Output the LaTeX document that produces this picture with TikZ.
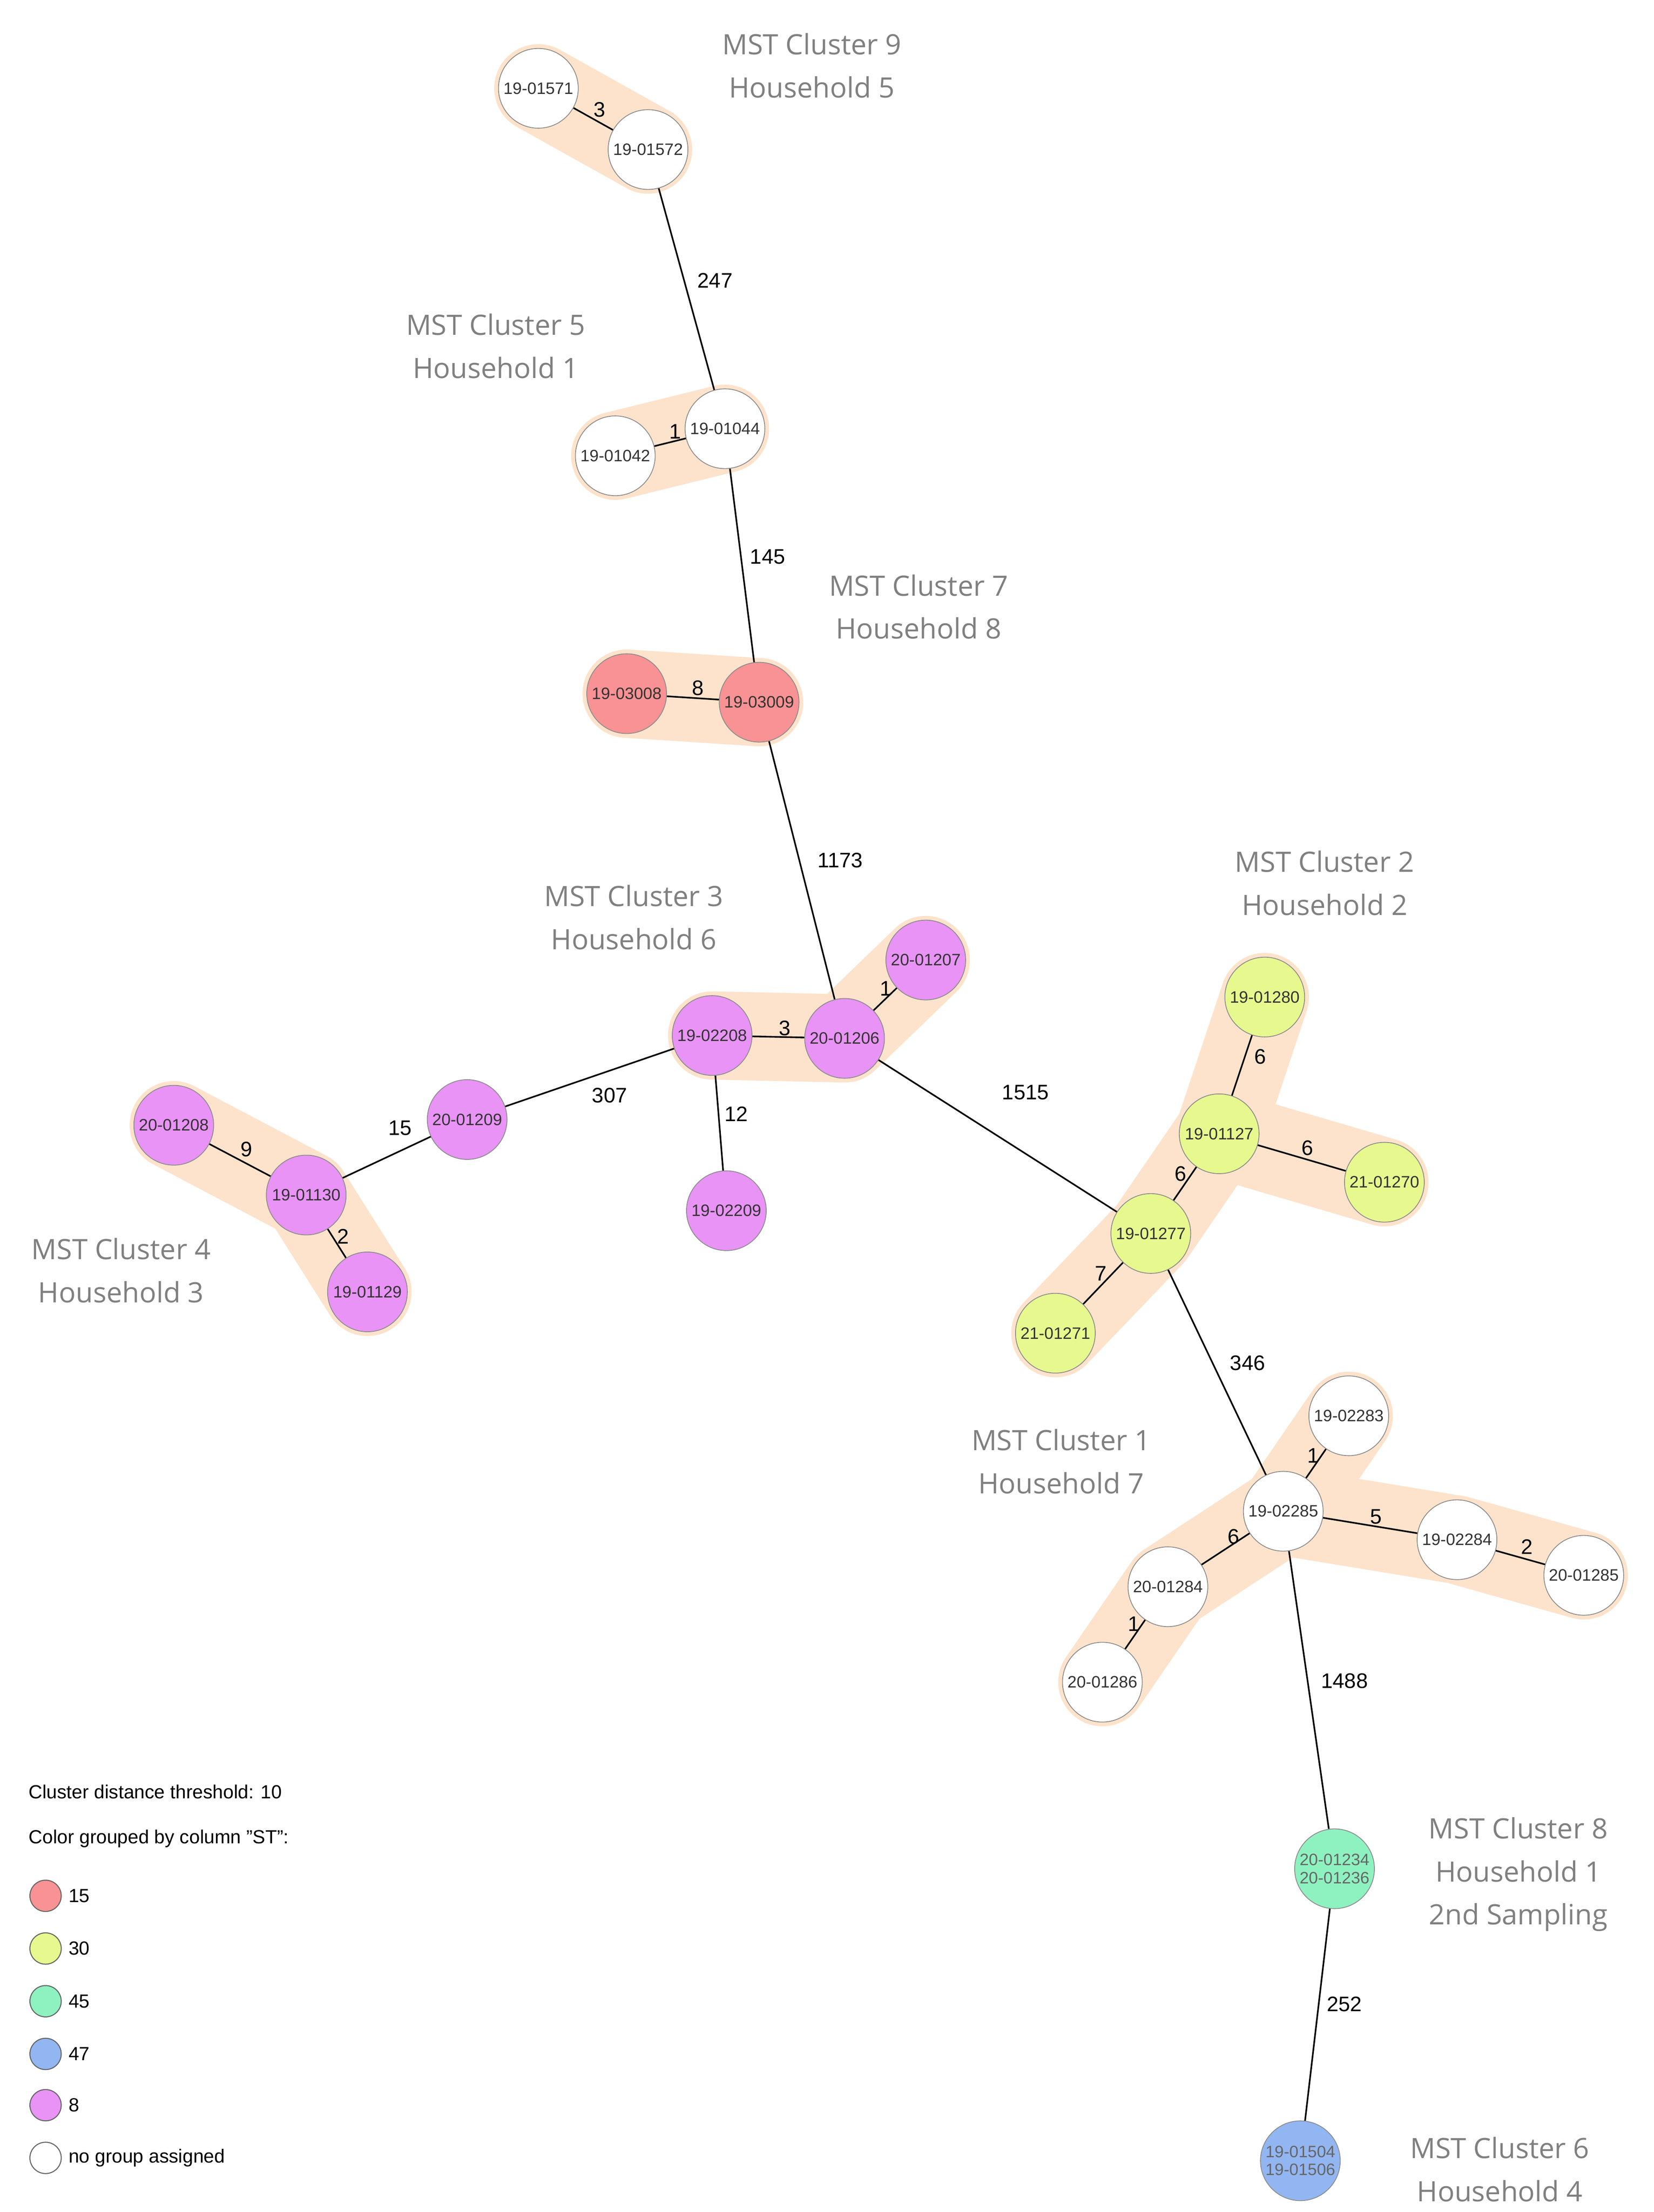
\documentclass[tikz,border=0pt]{standalone}
\usepackage{fontspec}
\setmainfont{Liberation Sans}
\newfontfamily\clfont{Open Sans}
\definecolor{halo}{HTML}{FDE3CC}
\definecolor{cred}{HTML}{F89294}
\definecolor{cyel}{HTML}{E7F98E}
\definecolor{cgrn}{HTML}{8EF2C0}
\definecolor{cblu}{HTML}{92B6F2}
\definecolor{cpur}{HTML}{E893F5}
\definecolor{clab}{HTML}{808080}
\begin{document}
\begin{tikzpicture}[x=0.05cm,y=-0.05cm,
  nd/.style={circle,draw=black!45,line width=0.8pt,minimum size=56*0.05cm,inner sep=0pt,font=\fontsize{16.5}{17}\selectfont,text=black!80},
  nw/.style={nd,fill=white},
  nr/.style={nd,fill=cred},
  ny/.style={nd,fill=cyel},
  ng/.style={nd,fill=cgrn,text=black!60},
  nb/.style={nd,fill=cblu,text=black!60},
  np/.style={nd,fill=cpur},
  hl/.style={draw=halo,line width=3.1cm,line cap=round,line join=round},
  ed/.style={draw=black,line width=1.6pt},
  el/.style={font=\fontsize{21}{22}\selectfont,inner sep=1pt},
  cl/.style={font=\clfont\fontsize{28}{43}\selectfont,text=clab,align=center},
  lg/.style={font=\fontsize{19}{20}\selectfont,anchor=west,inner sep=0pt},
  lc/.style={circle,draw=black!60,line width=1pt,minimum size=1.1cm,inner sep=0pt}]
\useasboundingbox (0,0) rectangle (1161,1553);
\coordinate (a1) at (378,62); \coordinate (a2) at (455,105);
\coordinate (b1) at (509,301); \coordinate (b2) at (432,320);
\coordinate (c1) at (440,487); \coordinate (c2) at (533,493);
\coordinate (d1) at (650,674); \coordinate (d2) at (593,729); \coordinate (d3) at (500,727);
\coordinate (d4) at (510,850); \coordinate (d5) at (328,786);
\coordinate (e1) at (215,839); \coordinate (e2) at (122,790); \coordinate (e3) at (258,907);
\coordinate (f1) at (888,700); \coordinate (f2) at (856,796); \coordinate (f3) at (972,830);
\coordinate (f4) at (808,866); \coordinate (f5) at (741,936);
\coordinate (h1) at (947,994); \coordinate (h2) at (901,1061); \coordinate (h3) at (1023,1081);
\coordinate (h4) at (1112,1106); \coordinate (h5) at (820,1114); \coordinate (h6) at (774,1181);
\coordinate (i1) at (937,1312); \coordinate (j1) at (913,1517);
\draw[hl] (a1)--(a2);
\draw[hl] (b2)--(b1);
\draw[hl] (c1)--(c2);
\draw[hl] (d3)--(d2)--(d1);
\draw[hl] (e2)--(e1)--(e3);
\draw[hl] (f1)--(f2)--(f3);
\draw[hl] (f2)--(f4)--(f5);
\draw[hl] (h1)--(h2)--(h3)--(h4);
\draw[hl] (h2)--(h5)--(h6);
\node[nw] (n1) at (a1) {19-01571};
\node[nw] (n2) at (a2) {19-01572};
\node[nw] (n3) at (b1) {19-01044};
\node[nw] (n4) at (b2) {19-01042};
\node[nr] (n5) at (c1) {19-03008};
\node[nr] (n6) at (c2) {19-03009};
\node[np] (n7) at (d1) {20-01207};
\node[np] (n8) at (d2) {20-01206};
\node[np] (n9) at (d3) {19-02208};
\node[np] (n10) at (d4) {19-02209};
\node[np] (n11) at (d5) {20-01209};
\node[np] (n12) at (e1) {19-01130};
\node[np] (n13) at (e2) {20-01208};
\node[np] (n14) at (e3) {19-01129};
\node[ny] (n15) at (f1) {19-01280};
\node[ny] (n16) at (f2) {19-01127};
\node[ny] (n17) at (f3) {21-01270};
\node[ny] (n18) at (f4) {19-01277};
\node[ny] (n19) at (f5) {21-01271};
\node[nw] (n20) at (h1) {19-02283};
\node[nw] (n21) at (h2) {19-02285};
\node[nw] (n22) at (h3) {19-02284};
\node[nw] (n23) at (h4) {20-01285};
\node[nw] (n24) at (h5) {20-01284};
\node[nw] (n25) at (h6) {20-01286};
\node[ng,align=center,font=\fontsize{16.5}{18}\selectfont] (n26) at (i1) {20-01234\\20-01236};
\node[nb,align=center,font=\fontsize{16.5}{18}\selectfont] (n27) at (j1) {19-01504\\19-01506};
\draw[ed] (n1)--(n2); \draw[ed] (n2)--(n3); \draw[ed] (n4)--(n3);
\draw[ed] (n3)--(n6); \draw[ed] (n5)--(n6); \draw[ed] (n6)--(n8);
\draw[ed] (n8)--(n7); \draw[ed] (n9)--(n8); \draw[ed] (n9)--(n10);
\draw[ed] (n11)--(n9); \draw[ed] (n12)--(n11); \draw[ed] (n13)--(n12);
\draw[ed] (n12)--(n14); \draw[ed] (n8)--(n18); \draw[ed] (n15)--(n16);
\draw[ed] (n16)--(n17); \draw[ed] (n16)--(n18); \draw[ed] (n18)--(n19);
\draw[ed] (n18)--(n21); \draw[ed] (n21)--(n20); \draw[ed] (n21)--(n22);
\draw[ed] (n22)--(n23); \draw[ed] (n21)--(n24); \draw[ed] (n24)--(n25);
\draw[ed] (n21)--(n26); \draw[ed] (n26)--(n27);
\foreach \t/\px/\py in {3/421/77,247/502/197,1/474/303,145/539/391,8/490/483,1173/590/604,1/622/694,3/551/722,12/517/782,307/428/769,15/281/792,9/173/807,2/241/868,1515/720/767,6/885/742,6/918/806,6/829/824,7/773/894,346/876/957,1/922/1022,5/966/1065,2/1072/1086,6/866/1079,1/796/1140,1488/944/1180,252/944/1407}
  \node[el] at (\px,\py) {\t};
\node[cl] at (570,46) {MST Cluster 9\\Household 5};
\node[cl] at (348,243) {MST Cluster 5\\Household 1};
\node[cl] at (645,426) {MST Cluster 7\\Household 8};
\node[cl] at (445,644) {MST Cluster 3\\Household 6};
\node[cl] at (930,620) {MST Cluster 2\\Household 2};
\node[cl] at (85,892) {MST Cluster 4\\Household 3};
\node[cl] at (745,1026) {MST Cluster 1\\Household 7};
\node[cl] at (1066,1316) {MST Cluster 8\\Household 1\\2nd Sampling};
\node[cl] at (1053,1523) {MST Cluster 6\\Household 4};
\node[lg] at (20,1258) {Cluster distance threshold: 10};
\node[lg] at (20,1291) {Color grouped by column "ST":};
\foreach \c/\t/\py in {cred/15/1331,cyel/30/1368,cgrn/45/1405,cblu/47/1442,cpur/8/1478,white/no group assigned/1515}{
  \node[lc,fill=\c] at (32,\py) {};
  \node[lg] at (48,\py) {\t};
}
\end{tikzpicture}
\end{document}
